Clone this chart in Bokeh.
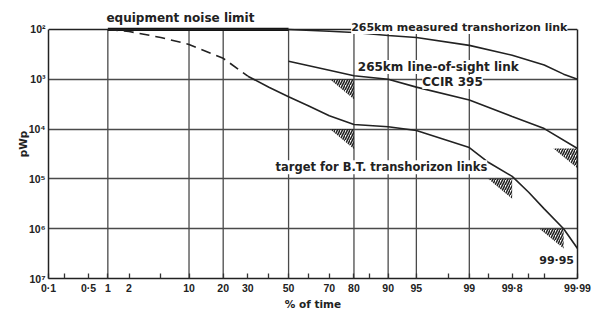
import math
from statistics import NormalDist
from bokeh.plotting import figure
from bokeh.models import (Range1d, FixedTicker, CustomJSTickFormatter, Label, Span,
                          LogAxis)
from bokeh.embed import file_html
from bokeh.resources import INLINE

_nd = NormalDist()


def z(p):
    return _nd.inv_cdf(p / 100.0)


# ---------------- data ----------------
# x: % of time, y: pWp
noise_x = [1, 50]
noise_y = [100, 100]

meas_x = [50, 70, 80, 90, 95, 99, 99.8, 99.95, 99.98, 99.99]
meas_y = [100, 109, 115, 132, 145, 209, 330, 520, 790, 1000]

los_x = [50, 70, 80, 90, 95, 99, 99.8, 99.95, 99.99]
los_y = [436, 660, 850, 1000, 1440, 2600, 5600, 9800, 24500]

tgt_dash_x = [1, 2, 5, 10, 20, 30]
tgt_dash_y = [100, 110, 145, 200, 380, 870]

tgt_x = [30, 40, 50, 60, 70, 80, 90, 95, 99, 99.5, 99.8, 99.9, 99.95, 99.98, 99.99]
tgt_y = [870, 1450, 2240, 3400, 5400, 8100, 9000, 10700, 23500, 47000, 89000,
         186000, 400000, 1.0e6, 2.5e6]

hatch_x = [80, 80, 99.99, 99.8, 99.98]
hatch_y = [1e3, 1e4, 24500, 1e5, 1e6]

x_label_vals = [0.1, 0.5, 1, 2, 10, 20, 30, 50, 70, 80, 90, 95, 99, 99.8, 99.99]
x_label_text = ["0·1", "0·5", "1", "2", "10", "20", "30", "50", "70", "80", "90",
                "95", "99", "99·8", "99·99"]
x_minor_vals = [0.2, 5, 40, 60, 85, 98, 99.5, 99.9, 99.95]
x_grid_vals = [1, 10, 20, 50, 80, 90, 95, 99]
y_tick_vals = [1e2, 1e3, 1e4, 1e5, 1e6, 1e7]
y_grid_vals = [1e3, 1e4, 1e5, 1e6]

# ---------------- figure ----------------
y_top, y_bot = y_tick_vals[0], y_tick_vals[-1]
p = figure(width=594, height=312,
           x_range=Range1d(z(x_label_vals[0]), z(x_label_vals[-1])),
           y_range=Range1d(y_bot, 10 ** 1.6),
           y_axis_type="log",
           output_backend="svg", toolbar_location=None,
           min_border_left=48, min_border_right=17,
           min_border_top=9, min_border_bottom=32)

p.background_fill_color = "white"
p.border_fill_color = "white"
p.outline_line_color = None

FONT = "DejaVu Sans"
TFONT = "Liberation Sans"
INK = "#222222"
GRID = "#4a4a4a"

# x axis
xa = p.xaxis[0]
xa.ticker = FixedTicker(ticks=[z(v) for v in x_label_vals],
                        minor_ticks=[z(v) for v in x_minor_vals])
xa.formatter = CustomJSTickFormatter(
    args=dict(tvals=[z(v) for v in x_label_vals], labs=x_label_text),
    code="""
let best = 0, bd = 1e9;
for (let i = 0; i < tvals.length; i++) {
  const d = Math.abs(tvals[i] - tick);
  if (d < bd) { bd = d; best = i; }
}
return labs[best];
""")
xa.axis_line_color = INK
xa.axis_line_width = 1.5
xa.major_tick_in = 5
xa.major_tick_out = 0
xa.minor_tick_in = 5
xa.minor_tick_out = 0
xa.major_tick_line_color = "#333333"
xa.minor_tick_line_color = "#333333"
xa.major_tick_line_width = 1.3
xa.minor_tick_line_width = 1.3
xa.major_label_standoff = 3
xa.major_label_text_font = TFONT
xa.major_label_text_font_style = "bold"
xa.major_label_text_font_size = "10.5px"
xa.major_label_text_color = INK
xa.axis_label = "% of time"
xa.axis_label_standoff = 1
xa.axis_label_text_font = FONT
xa.axis_label_text_font_style = "bold"
xa.axis_label_text_font_size = "10.5px"
xa.axis_label_text_color = INK

# y axis (left edge of the frame)
ya = p.yaxis[0]
ya.bounds = (y_top, y_bot)
ya.ticker = FixedTicker(ticks=y_tick_vals)
ya.formatter = CustomJSTickFormatter(code="""
const sup = {2: "\\u00b2", 3: "\\u00b3", 4: "\\u2074", 5: "\\u2075", 6: "\\u2076", 7: "\\u2077"};
return "10" + sup[Math.round(Math.log10(tick))];
""")
ya.axis_line_color = INK
ya.axis_line_width = 1.5
ya.major_tick_in = 0
ya.major_tick_out = 0
ya.minor_tick_in = 0
ya.minor_tick_out = 0
ya.major_label_standoff = 3
ya.major_label_text_font = TFONT
ya.major_label_text_font_style = "bold"
ya.major_label_text_font_size = "10.5px"
ya.major_label_text_color = INK
ya.axis_label = "pWp"
ya.axis_label_text_font = FONT
ya.axis_label_text_font_style = "bold"
ya.axis_label_text_font_size = "10.5px"
ya.axis_label_standoff = -3
ya.axis_label_text_color = INK

# right edge of the frame
ra = LogAxis(bounds=(y_top, y_bot), ticker=FixedTicker(ticks=[]),
             axis_line_color=INK, axis_line_width=1.5,
             major_tick_in=0, major_tick_out=0, minor_tick_in=0, minor_tick_out=0,
             major_label_text_font_size="0px", major_label_standoff=0)
p.add_layout(ra, "right")

# grid
p.xgrid.visible = False
p.ygrid.ticker = FixedTicker(ticks=y_grid_vals)
p.ygrid.grid_line_color = GRID
p.ygrid.grid_line_width = 1.3
gz = [z(v) for v in x_grid_vals]
p.segment(x0=gz, y0=[y_top] * len(gz), x1=gz, y1=[y_bot] * len(gz),
          line_color=GRID, line_width=1.3)

# top edge (10^2 line)
p.add_layout(Span(location=y_top, dimension="width", line_color=INK, line_width=1.5))

# hatched target triangles
dz = 0.31
dec = 0.4
hx = [[z(x) - dz, z(x), z(x)] for x in hatch_x]
hy = [[y, y, y * 10 ** dec] for y in hatch_y]
p.patches(hx, hy, fill_alpha=0, line_alpha=0,
          hatch_pattern="/", hatch_color=INK, hatch_weight=1.6, hatch_scale=5)

# curves
p.line([z(v) for v in noise_x], noise_y, line_color="#111111", line_width=3.2)
p.line([z(v) for v in meas_x], meas_y, line_color=INK, line_width=1.6)
p.line([z(v) for v in los_x], los_y, line_color=INK, line_width=1.6)
p.line([z(v) for v in tgt_dash_x], tgt_dash_y, line_color=INK, line_width=1.6,
       line_dash="10 6")
p.line([z(v) for v in tgt_x], tgt_y, line_color=INK, line_width=1.6)


def add_label(px, py, text, bg=True, align="center", size="12px"):
    lab = Label(x=z(px), y=py, text=text, text_align=align, text_baseline="middle",
                text_font=FONT, text_font_style="bold", text_font_size=size,
                text_color=INK)
    if bg:
        lab.background_fill_color = "white"
    p.add_layout(lab)


add_label(8.2, 60, "equipment noise limit", bg=False)
add_label(98.6, 91, "265km measured transhorizon link", size="11px")
add_label(97.3, 571, "265km line-of-sight link")
add_label(98.26, 1138, "CCIR 395")
add_label(88.4, 58600, "target for B.T. transhorizon links", size="11.5px")
add_label(99.972, 10 ** 6.64, "99·95", bg=False, size="11px")

open("out.html", "w").write(file_html(p, INLINE))
